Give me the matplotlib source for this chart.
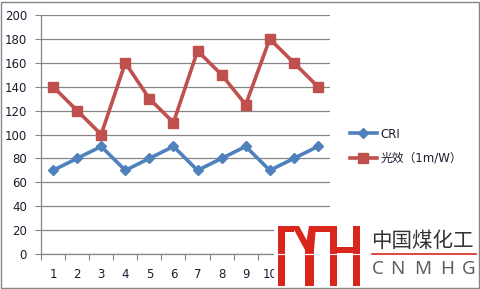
import matplotlib.pyplot as plt
from matplotlib.patches import Rectangle, Polygon

categories = [1, 2, 3, 4, 5, 6, 7, 8, 9, 10, 11, 12]
cri = [70, 80, 90, 70, 80, 90, 70, 80, 90, 70, 80, 90]
efficacy = [140, 120, 100, 160, 130, 110, 170, 150, 125, 180, 160, 140]
yticks = list(range(0, 201, 20))

plt.rcParams['font.family'] = ['DejaVu Sans', 'Noto Sans CJK SC']

W, H = 481, 289
fig = plt.figure(figsize=(W / 100, H / 100), dpi=100)
ax = fig.add_axes([41 / W, 1 - 254 / H, 289 / W, 239 / H])

grid = '#868686'
txt = '#1c1c30'
red = '#D9261C'
x = list(range(1, len(categories) + 1))
ax.plot(x, cri, color='#4F81BD', lw=2.6, marker='D', ms=5.5, label='CRI', zorder=3)
ax.plot(x, efficacy, color='#C0504D', lw=2.6, marker='s', ms=7.5, label='光效（1m/W）', zorder=3)

ax.set_xlim(0.5, len(categories) + 0.5)
ax.set_ylim(0, 200)
ax.set_yticks(yticks)
ax.yaxis.grid(True, color=grid, lw=0.9)
ax.set_axisbelow(True)
ax.set_xticks([i + 0.5 for i in range(len(categories) + 1)])
ax.set_xticklabels([])
ax.set_xticks(x, minor=True)
ax.set_xticklabels([str(c) for c in categories], minor=True)
ax.tick_params(axis='x', which='major', length=4, color=grid, direction='out')
ax.tick_params(axis='x', which='minor', length=0, pad=10, labelsize=8.5, labelcolor=txt)
ax.tick_params(axis='y', length=4, color=grid, pad=6, labelsize=8.5, labelcolor=txt)
for s in ['top', 'right']:
    ax.spines[s].set_visible(False)
for s in ['left', 'bottom']:
    ax.spines[s].set_color(grid)
    ax.spines[s].set_linewidth(0.9)

leg = fig.legend(loc='upper left', bbox_to_anchor=(339 / W, 1 - 117 / H), frameon=False,
                 fontsize=8.5, handlelength=2.3, labelspacing=0.95, handletextpad=0.3)
for t in leg.get_texts():
    t.set_color(txt)

# watermark logo, pixel coordinates (y down)
def px_rect(x0, y0, x1, y1, c=red):
    fig.patches.append(Rectangle((x0 / W, 1 - y1 / H), (x1 - x0) / W, (y1 - y0) / H,
                                 transform=fig.transFigure, color=c, lw=0, zorder=5))

def px_poly(pts, c=red):
    fig.patches.append(Polygon([(a / W, 1 - b / H) for a, b in pts],
                               transform=fig.transFigure, color=c, lw=0, zorder=5))

px_rect(274, 222, 478, 287, 'white')
px_rect(278, 226, 285, 286)
px_rect(278, 226, 294, 232)
px_poly([(292, 226), (299, 226), (312, 250), (305, 250)])
px_poly([(309, 226), (316, 226), (314, 250), (305, 250)])
px_rect(305, 248, 314, 286)
px_rect(314, 226, 334, 232)
px_rect(330, 226, 337, 286)
px_rect(337, 247, 353, 253)
px_rect(353, 226, 360, 286)
fig.lines.append(plt.Line2D([278 / W, 360 / W], [1 - 254 / H] * 2, transform=fig.transFigure,
                            color='white', lw=0.8, zorder=6))

fig.text(371 / W, 1 - 241 / H, '中国煤化工', fontsize=14.8, color='#333333', va='center',
         family=['Noto Sans CJK SC'], zorder=6)
fig.lines.append(plt.Line2D([372 / W, 476 / W], [1 - 254 / H] * 2, transform=fig.transFigure,
                            color=red, lw=1.2, zorder=6))
for ch, cx in zip('CNMHG', [378, 397, 423, 447, 469]):
    fig.text(cx / W, 1 - 269 / H, ch, fontsize=13.5, color='#5f5f5f', va='center', ha='center',
             family=['Noto Sans'], zorder=6)

fig.patches.append(Rectangle((0.5 / W, 1.5 / H), (W - 2) / W, (H - 3) / H, transform=fig.transFigure,
                             fill=False, ec=grid, lw=1, zorder=7))

fig.savefig('out.png', dpi=100)
